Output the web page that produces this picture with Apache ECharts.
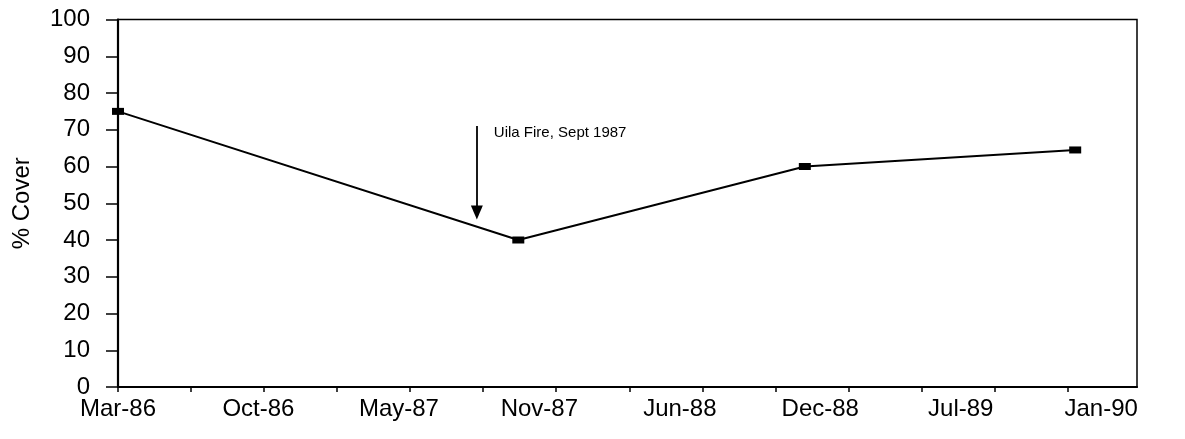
<!DOCTYPE html>
<html>
<head>
<meta charset="utf-8">
<script src="https://cdn.jsdelivr.net/npm/echarts@6/dist/echarts.min.js"></script>
<style>
html,body{margin:0;padding:0;background:#fff;}
#chart{width:1185px;height:439px;}
</style>
</head>
<body>
<div id="chart"></div>
<script>
// ---- data ----
const axisStartDate = '1986-03-28';
const surveyDates = ['1986-03-28', '1987-10-19', '1988-11-30', '1989-12-20'];
const coverValues = [75, 40, 60, 64.5];
const monthNames = ['Jan','Feb','Mar','Apr','May','Jun','Jul','Aug','Sep','Oct','Nov','Dec'];
const yTicks = [0, 10, 20, 30, 40, 50, 60, 70, 80, 90, 100];
const labelStepDays = 200;
const labelCount = 8;      // Mar-86 ... Jan-90
const tickStepDays = 104;
const axisEndDays = 1451;
const fireDate = '1987-08-21';
const fireArrowFrom = 71;
const fireArrowTo = 47.5;
const fireText = 'Uila Fire, Sept 1987';

// ---- helpers ----
const DAY = 86400000;
const t0 = Date.parse(axisStartDate + 'T00:00:00Z');
function toDays(s) { return Math.round((Date.parse(s + 'T00:00:00Z') - t0) / DAY); }
function dayLabel(d) {
  const dt = new Date(t0 + d * DAY);
  return monthNames[dt.getUTCMonth()] + '-' + String(dt.getUTCFullYear()).slice(2);
}
const labelValues = [];
for (let i = 0; i < labelCount; i++) labelValues.push(i * labelStepDays);
const tickValues = [];
for (let d = 0; d < axisEndDays; d += tickStepDays) tickValues.push(d);

const seriesData = surveyDates.map((s, i) => [toDays(s), coverValues[i]]);
const fireX = toDays(fireDate);

const FONT = 'Liberation Sans, Arial, sans-serif';
const chart = echarts.init(document.getElementById('chart'), null, {renderer: 'canvas'});
chart.setOption({
  animation: false,
  backgroundColor: '#fff',
  grid: {
    left: 118, right: 48, top: 19.5, bottom: 52,
    show: true, borderColor: '#000', borderWidth: 1.5,
    outerBoundsMode: 'none'
  },
  xAxis: {
    type: 'value',
    min: 0, max: axisEndDays,
    axisLine: {show: true, onZero: false, lineStyle: {color: '#000', width: 2}},
    axisTick: {show: true, customValues: tickValues, length: 5, inside: false, lineStyle: {color: '#000', width: 1.5}},
    axisLabel: {
      customValues: labelValues,
      formatter: v => dayLabel(v),
      color: '#000', fontFamily: FONT, fontSize: 24, margin: 10
    },
    splitLine: {show: false}
  },
  yAxis: {
    type: 'value',
    min: 0, max: 100, interval: 10,
    name: '% Cover',
    nameLocation: 'middle', nameGap: 84, nameRotate: 90,
    nameTextStyle: {color: '#000', fontFamily: FONT, fontSize: 24},
    axisLine: {show: true, lineStyle: {color: '#000', width: 2.2}},
    axisTick: {show: true, length: 12, lineStyle: {color: '#000', width: 1.5}},
    axisLabel: {customValues: yTicks, color: '#000', fontFamily: FONT, fontSize: 24, margin: 28},
    splitLine: {show: false}
  },
  series: [{
    type: 'line',
    data: seriesData,
    symbol: 'rect',
    symbolSize: [12, 7],
    showAllSymbol: true,
    lineStyle: {color: '#000', width: 2},
    itemStyle: {color: '#000'},
    markLine: {
      silent: true,
      symbol: ['none', 'triangle'],
      symbolSize: [12, 14],
      symbolRotate: 180,
      lineStyle: {color: '#000', width: 1.8, type: 'solid'},
      label: {show: false},
      data: [[{coord: [fireX, fireArrowFrom]}, {coord: [fireX, fireArrowTo]}]]
    },
    markPoint: {
      silent: true,
      symbol: 'circle', symbolSize: 0,
      label: {
        show: true, position: 'right', distance: 17,
        formatter: fireText,
        color: '#000', fontFamily: FONT, fontSize: 15
      },
      data: [{coord: [fireX, 69.2]}]
    }
  }]
});
</script>
</body>
</html>
